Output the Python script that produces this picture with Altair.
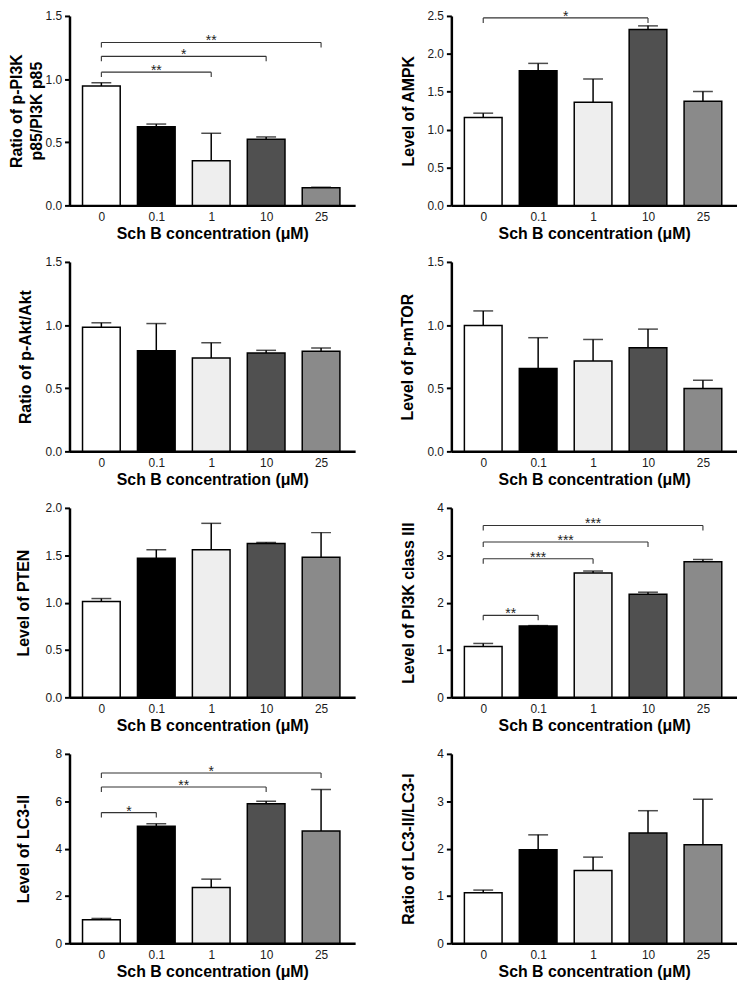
import altair as alt
import pandas as pd

# ---------------- data ----------------
cats = ["0", "0.1", "1", "10", "25"]
idx = [0, 1, 2, 3, 4]
fills = ["#ffffff", "#000000", "#eeeeee", "#505050", "#8a8a8a"]

x_title = "Sch B concentration (μM)"

pi3k_mean = [0.945, 0.623, 0.353, 0.524, 0.139]
pi3k_top = [0.971, 0.644, 0.571, 0.542, 0.144]

ampk_mean = [1.16, 1.778, 1.362, 2.32, 1.375]
ampk_top = [1.217, 1.874, 1.668, 2.369, 1.502]

akt_mean = [0.983, 0.797, 0.74, 0.779, 0.792]
akt_top = [1.018, 1.012, 0.86, 0.80, 0.818]

mtor_mean = [0.997, 0.656, 0.716, 0.821, 0.498]
mtor_top = [1.112, 0.90, 0.886, 0.968, 0.564]

pten_mean = [1.012, 1.468, 1.558, 1.624, 1.478]
pten_top = [1.043, 1.558, 1.837, 1.635, 1.739]

pi3k3_mean = [1.075, 1.508, 2.625, 2.178, 2.862]
pi3k3_top = [1.138, 1.515, 2.667, 2.22, 2.911]

lc3_mean = [1.0, 4.94, 2.36, 5.89, 4.74]
lc3_top = [1.05, 5.05, 2.71, 6.0, 6.5]

ratio_mean = [1.068, 1.976, 1.536, 2.33, 2.08]
ratio_top = [1.124, 2.29, 1.82, 2.8, 3.04]

# brackets: (from index, to index, level, label)
pi3k_br = [(0, 2, 1.055, "**"), (0, 3, 1.18, "*"), (0, 4, 1.29, "**")]
ampk_br = [(0, 3, 2.474, "*")]
pi3k3_br = [(0, 1, 1.731, "**"), (0, 2, 2.925, "***"), (0, 3, 3.281, "***"), (0, 4, 3.63, "***")]
lc3_br = [(0, 1, 5.52, "*"), (0, 3, 6.6, "**"), (0, 4, 7.19, "*")]

PLOT_W = 288
PLOT_H = 191
FONT = "Liberation Sans"


def panel(means, tops, title, ymax, yvals, fmt, brackets, tpad):
    df = pd.DataFrame({"i": idx, "cat": cats, "mean": means, "top": tops})
    xs = alt.Scale(domain=[-0.49, 4.53], nice=False, zero=False)
    ys = alt.Scale(domain=[0, ymax], nice=False, zero=True)
    xa = alt.Axis(values=idx, labelExpr=f"{cats}[datum.value]", title=x_title,
                  ticks=False, labelPadding=6, titlePadding=3, labelAngle=0, grid=False)
    ya = alt.Axis(values=yvals, format=fmt, title=title, titlePadding=tpad,
                  labelPadding=3, tickSize=5, grid=False, titleLineHeight=20)

    def X(f):
        return alt.X(f, type="quantitative", scale=xs, axis=xa)

    def Y(f):
        return alt.Y(f, type="quantitative", scale=ys, axis=ya)

    base = alt.Chart(df)
    err = base.mark_rule(color="black", strokeWidth=1.5).encode(
        x=X("i"), y=Y("mean"), y2="top")
    cap = base.mark_tick(color="black", size=20, thickness=1.5, orient="horizontal").encode(
        x=X("i"), y=Y("top"))
    bars = base.mark_bar(size=38, stroke="black", strokeWidth=1.5).encode(
        x=X("i"), y=Y("mean"),
        fill=alt.Fill("cat:N", scale=alt.Scale(domain=cats, range=fills), legend=None))
    layers = [err, cap, bars]

    if brackets:
        tick = 5.0 / PLOT_H * ymax
        bdf = pd.DataFrame({
            "a": [b[0] for b in brackets],
            "b": [b[1] for b in brackets],
            "lvl": [b[2] for b in brackets],
            "lab": [b[3] for b in brackets],
        })
        bdf["mid"] = (bdf["a"] + bdf["b"]) / 2
        bdf["low"] = bdf["lvl"] - tick
        ends = pd.concat([
            pd.DataFrame({"xe": bdf["a"], "lvl": bdf["lvl"], "low": bdf["low"]}),
            pd.DataFrame({"xe": bdf["b"], "lvl": bdf["lvl"], "low": bdf["low"]}),
        ])
        hl = alt.Chart(bdf).mark_rule(color="#333333", strokeWidth=1.1).encode(
            x=X("a"), x2="b", y=Y("lvl"))
        vt = alt.Chart(ends).mark_rule(color="#333333", strokeWidth=1.1).encode(
            x=X("xe"), y=Y("lvl"), y2="low")
        st = alt.Chart(bdf).mark_text(font=FONT, fontSize=14, baseline="alphabetic",
                                      dy=3, color="#222222").encode(
            x=X("mid"), y=Y("lvl"), text="lab:N")
        layers += [hl, vt, st]

    return alt.layer(*layers).properties(width=PLOT_W, height=PLOT_H)


p1 = panel(pi3k_mean, pi3k_top, ["Ratio of p-PI3K", "p85/PI3K p85"], 1.5,
           [0, 0.5, 1.0, 1.5], ".1f", pi3k_br, 1)
p2 = panel(ampk_mean, ampk_top, "Level of AMPK", 2.5,
           [0, 0.5, 1.0, 1.5, 2.0, 2.5], ".1f", ampk_br, 10)
p3 = panel(akt_mean, akt_top, "Ratio of p-Akt/Akt", 1.5,
           [0, 0.5, 1.0, 1.5], ".1f", None, 12)
p4 = panel(mtor_mean, mtor_top, "Level of p-mTOR", 1.5,
           [0, 0.5, 1.0, 1.5], ".1f", None, 11)
p5 = panel(pten_mean, pten_top, "Level of PTEN", 2.0,
           [0, 0.5, 1.0, 1.5, 2.0], ".1f", None, 14)
p6 = panel(pi3k3_mean, pi3k3_top, "Level of PI3K class III", 4,
           [0, 1, 2, 3, 4], "d", pi3k3_br, 20)
p7 = panel(lc3_mean, lc3_top, "Level of LC3-II", 8,
           [0, 2, 4, 6, 8], "d", lc3_br, 24)
p8 = panel(ratio_mean, ratio_top, "Ratio of LC3-II/LC3-I", 4,
           [0, 1, 2, 3, 4], "d", None, 20)

chart = alt.concat(p1, p2, p3, p4, p5, p6, p7, p8, columns=2,
                   spacing={"row": 57, "column": 97}, bounds="flush").properties(
    padding={"top": -3, "left": 0, "right": 0, "bottom": 0}
).configure_axis(
    domainColor="black", domainWidth=2.5, tickColor="black", tickWidth=2,
    labelFont=FONT, labelFontSize=12, labelColor="#1a1a1a",
    titleFont=FONT, titleFontSize=16, titleFontWeight="bold", titleColor="black",
).configure_view(stroke=None)

chart.save("out.html", embed_options={"renderer": "svg", "actions": False})
